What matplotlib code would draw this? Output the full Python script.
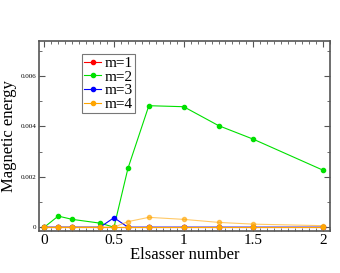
import numpy as np
import matplotlib.pyplot as plt
from matplotlib.ticker import MultipleLocator

plt.rcParams['font.family'] = ['Liberation Serif', 'DejaVu Serif']

# Elsasser numbers sampled
elsasser = [0, 0.1, 0.2, 0.4, 0.5, 0.6, 0.75, 1.0, 1.25, 1.5, 2.0]

# magnetic energy per azimuthal mode
m1 = [0, 0, 0, 0, 0, 0, 0, 0, 0, 0, 0]
m2 = [0, 0.00044, 0.00031, 0.00016, 0, 0.00233, 0.00482, 0.00478, 0.00403, 0.00349, 0.00226]
m3 = [0, 0, 0, 0, 0.000375, 0, 0, 0, 0, 0, 0]
m4 = [0, 0, 0, 0, 0, 0.00022, 0.00039, 0.00031, 0.00019, 0.00012, 0.00006]
m4_low = [0, 0, 0, 0, 0, 0, 0, 0, 0, 0, 0]

fig = plt.figure(figsize=(3.4, 2.73), dpi=100)
ax = fig.add_axes([0.1147, 0.154, 0.856, 0.697])

kw = dict(marker='o', markersize=3, linewidth=0.8)
ax.plot(elsasser, m1, color='#ff0000', label='m=1', **kw)
ax.plot(elsasser, m2, color='#00e000', label='m=2', **kw)
ax.plot(elsasser, m3, color='#0000ff', label='m=3', **kw)
ax.plot(elsasser, m4, color='#ffa500', label='m=4', alpha=0.6, marker='o',
        markersize=3, linewidth=0.8, markerfacecolor='#ffa500', markeredgecolor='#ffa500')
ax.plot(elsasser, m4_low, color='#ffa500', zorder=5, **kw)

ax.set_xlim(-0.038, 2.05)
ax.set_ylim(-0.00015, 0.0074)
ax.xaxis.set_major_locator(MultipleLocator(0.5))
ax.xaxis.set_minor_locator(MultipleLocator(0.05))
ax.yaxis.set_major_locator(MultipleLocator(0.002))
ax.yaxis.set_minor_locator(MultipleLocator(0.001))
ax.set_xticks([0, 0.5, 1, 1.5, 2])
ax.set_xticklabels(['0', '0.5', '1', '1.5', '2'], fontsize=11)
ax.set_yticks([0, 0.002, 0.004, 0.006])
ax.set_yticklabels(['0', '0.002', '0.004', '0.006'], fontsize=5)
ax.tick_params(which='both', direction='in', top=True, right=True, color='#555555')
ax.tick_params(which='major', length=4, pad=2)
ax.tick_params(which='minor', length=2)
for s in ax.spines.values():
    s.set_color('#555555')
    s.set_linewidth(1.2)

ax.set_xlabel('Elsasser number', fontsize=12, labelpad=0)
ax.set_ylabel('Magnetic energy', fontsize=12)
ax.yaxis.set_label_coords(-0.075, 0.497)

leg = ax.legend(loc='upper left', bbox_to_anchor=(0.148, 0.93), fontsize=11,
                frameon=True, fancybox=False, handlelength=1.1, handletextpad=0.2,
                labelspacing=0.0, borderpad=0.15, borderaxespad=0)
leg.get_frame().set_edgecolor('#555555')
leg.get_frame().set_linewidth(0.8)
for lh in leg.legend_handles:
    lh.set_alpha(1)

fig.savefig('out.png', dpi=100)
